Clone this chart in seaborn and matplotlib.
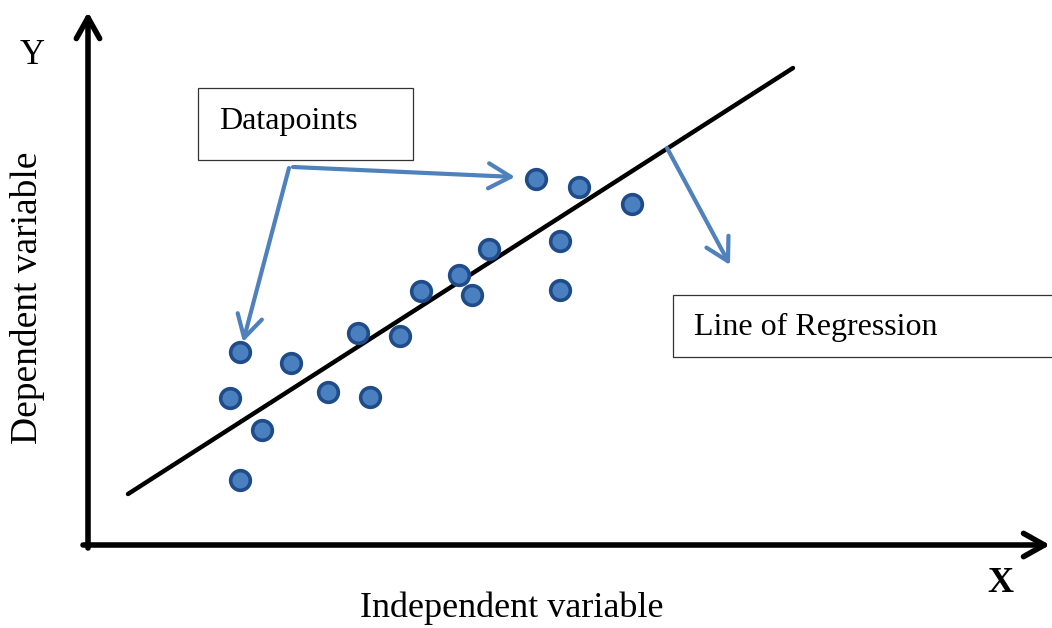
import pandas as pd
import matplotlib.pyplot as plt
import seaborn as sns
from matplotlib.patches import Rectangle

# 数据：散点（原点在坐标轴交点）
point_x = [152, 203, 142, 174, 152, 240, 282, 270, 312, 333, 371, 384, 401, 448, 491, 544, 472, 472]
point_y = [193, 182, 147, 115, 65, 153, 148, 212, 209, 254, 270, 250, 296, 366, 358, 341, 304, 255]

# 回归线两端点
line_x = [40, 705]
line_y = [51, 477]

# 说明文字
box_labels = ['Datapoints', 'Line of Regression']
x_label = 'Independent variable'
y_label = 'Dependent variable'

sns.set_theme(style='white')
plt.rcParams['font.family'] = ['Liberation Serif', 'DejaVu Serif']
plt.rcParams['text.color'] = 'black'

df = pd.DataFrame({'x': point_x, 'y': point_y})
reg = pd.DataFrame({'x': line_x, 'y': line_y})

fig = plt.figure(figsize=(10.52, 6.28), dpi=100)
ax = fig.add_axes([0, 0, 1, 1])
ax.set_xlim(-88, 964)
ax.set_ylim(-83, 545)
ax.axis('off')

# 坐标轴箭头
axis_arrow = dict(arrowstyle='->,head_length=0.75,head_width=0.42', color='black',
                  lw=4, mutation_scale=20, shrinkA=0, shrinkB=0)
ax.annotate('', xy=(0, 533), xytext=(0, -3), arrowprops=axis_arrow)
ax.annotate('', xy=(962, 0), xytext=(-5, 0), arrowprops=axis_arrow)

# 回归线
sns.lineplot(data=reg, x='x', y='y', color='black', lw=3.2, ax=ax)

# 数据点
sns.scatterplot(data=df, x='x', y='y', s=200, color='#4b80c0',
                edgecolor='#1f4c88', linewidth=2.6, ax=ax, zorder=5)
ax.set_xlabel('')
ax.set_ylabel('')

# 说明框
ax.add_patch(Rectangle((110, 385), 215, 72, fill=False, ec='#333333', lw=0.9))
ax.text(131, 424, box_labels[0], fontsize=23, va='center', ha='left', color='black')
ax.add_patch(Rectangle((585, 188), 390, 62, fill=False, ec='#333333', lw=0.9,
                       clip_on=False))
ax.text(606, 218, box_labels[1], fontsize=23, va='center', ha='left', color='black')

# 蓝色指示箭头
blue_arrow = dict(arrowstyle='->,head_length=0.8,head_width=0.45', color='#4f81bd',
                  lw=3, mutation_scale=20, shrinkA=0, shrinkB=0)
ax.annotate('', xy=(155, 203), xytext=(201, 377), arrowprops=blue_arrow)
ax.annotate('', xy=(427, 368), xytext=(205, 378), arrowprops=blue_arrow)
ax.annotate('', xy=(642, 280), xytext=(579, 397), arrowprops=blue_arrow)

# 轴标签
ax.text(-56, 490, 'Y', fontsize=25, ha='center', va='center', color='black')
ax.text(912, -38, 'X', fontsize=26, fontweight='bold', ha='center', va='center',
        color='black')
ax.text(424, -63, x_label, fontsize=26, ha='center', va='center', color='black')
ax.text(-60, 247, y_label, fontsize=27, ha='center', va='center', rotation=90,
        color='black')

fig.savefig('out.png', dpi=100)
plt.close(fig)
